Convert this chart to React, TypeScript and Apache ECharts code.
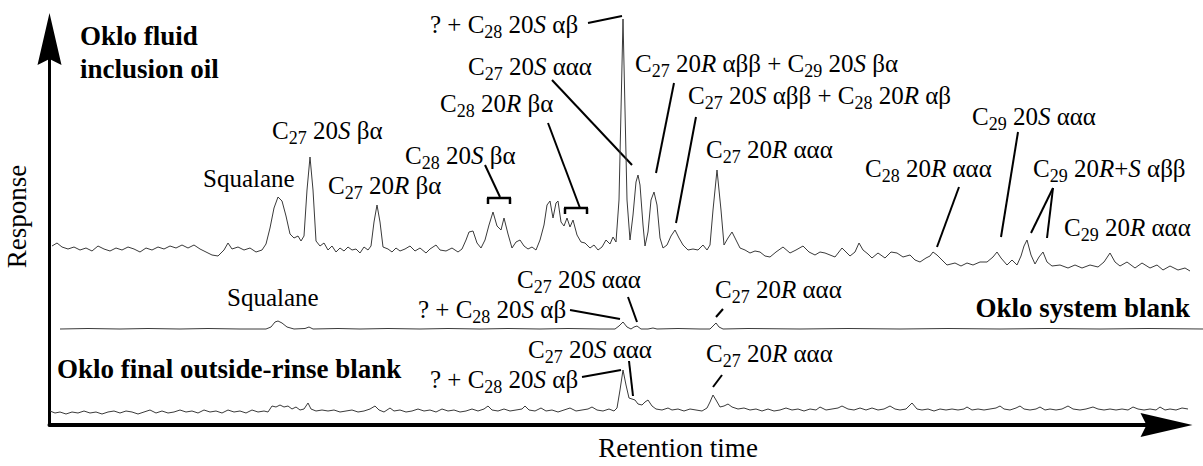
import React, { useEffect, useRef } from 'react';
import * as echarts from 'echarts';

// ---------------- data (retention index, response above trace zero) ----------------
const OIL_TRACE: [number, number][] = [
  [4,26],[9,29],[14,25],[20,23],[26,25],[32,22],[38,24],[44,21],[50,26],[56,23],[62,21],[68,24],[74,22],[80,25],[86,23],[92,20],[98,24],[104,22],[110,25],[116,23],[122,26],[128,24],[134,27],[140,24],[146,27],[152,23],[158,20],[164,17],[170,16],[176,22],[180,29],[184,23],[190,25],[196,22],[202,24],[208,20],[214,22],[218,28],[222,44],[226,64],[230,75],[234,71],[238,56],[242,38],[246,34],[250,36],[253,31],[256,36],[259,82],[262,115],[265,82],[268,31],[272,26],[276,29],[280,22],[284,26],[288,20],[292,24],[296,21],[300,25],[304,22],[308,23],[312,19],[316,25],[320,22],[323,26],[326,50],[329,67],[332,50],[335,25],[340,23],[344,20],[348,24],[352,21],[357,23],[362,26],[367,21],[372,24],[378,19],[382,23],[388,27],[392,22],[398,21],[404,24],[410,20],[414,23],[418,32],[421,40],[425,41],[429,29],[433,24],[437,32],[441,47],[445,60],[449,46],[453,42],[456,54],[460,38],[464,24],[468,30],[472,32],[476,26],[480,23],[484,25],[488,22],[492,32],[496,47],[499,67],[502,71],[505,54],[508,69],[510,71],[513,50],[516,46],[519,54],[522,45],[525,52],[529,37],[533,30],[537,29],[542,24],[546,27],[550,22],[554,25],[558,32],[562,28],[565,35],[568,30],[571,72],[573,162],[575,253],[577,162],[579,72],[582,32],[585,57],[588,90],[590,97],[592,87],[595,47],[597,26],[600,40],[603,72],[606,80],[609,67],[612,34],[615,24],[619,27],[623,36],[627,42],[631,34],[635,27],[640,22],[645,23],[650,22],[655,27],[659,22],[662,27],[665,62],[669,102],[673,62],[676,27],[680,34],[684,40],[688,32],[692,24],[697,22],[702,19],[707,21],[712,20],[717,16],[722,15],[728,20],[735,25],[742,19],[748,22],[755,26],[761,20],[767,17],[772,20],[777,19],[782,17],[787,15],[794,24],[802,16],[807,20],[811,29],[815,22],[820,18],[824,14],[830,19],[837,14],[843,20],[849,19],[855,15],[862,17],[867,12],[872,10],[878,14],[882,16],[885,20],[889,17],[892,14],[899,7],[907,9],[913,6],[919,9],[925,7],[932,10],[939,10],[945,15],[949,20],[953,14],[959,7],[964,12],[969,7],[973,16],[976,26],[979,32],[983,17],[987,8],[991,15],[995,20],[999,10],[1004,6],[1012,7],[1020,4],[1027,7],[1034,4],[1042,7],[1050,5],[1056,10],[1062,19],[1067,10],[1072,6],[1079,10],[1087,4],[1094,9],[1102,4],[1109,7],[1115,2],[1122,6],[1130,2],[1137,4],[1142,1]
];

const SYSTEM_BLANK_TRACE: [number, number][] = [
  [12,1],[40,1.5],[72,1],[100,1.5],[132,1],[160,1.5],[192,1],[218,1],[223,3],[227,8],[230,9],[234,7],[239,3],[246,1],[257,1.5],[261,3],[265,1],[290,1.5],[312,1],[340,1.5],[372,1],[400,1.5],[432,1],[460,1.5],[492,1],[520,1.5],[552,1],[567,1],[571,4],[575,8],[579,3],[583,1],[586,3],[589,4],[593,1],[600,1],[605,2],[609,1],[630,1.5],[652,1],[662,1],[665,4],[668,7],[671,3],[675,1],[700,1.5],[752,1],[800,1.5],[852,1],[900,1.5],[952,1],[1000,1.5],[1052,1],[1100,1.5],[1155,1]
];

const RINSE_BLANK_TRACE: [number, number][] = [
  [2,3],[7,1],[12,2],[18,0],[24,2],[30,1],[36,3],[42,1],[48,2],[54,0],[60,2],[66,3],[72,1],[78,3],[84,2],[90,0],[96,2],[102,4],[108,1],[114,3],[120,1],[126,2],[132,4],[138,2],[144,3],[150,1],[156,4],[162,2],[168,3],[174,1],[180,4],[186,2],[192,3],[198,1],[204,4],[210,2],[216,3],[220,2],[224,8],[228,7],[232,9],[236,7],[240,8],[244,5],[248,7],[252,4],[256,5],[260,11],[263,5],[268,3],[274,4],[280,3],[286,4],[292,2],[298,3],[304,4],[310,2],[316,3],[322,5],[327,8],[331,4],[336,2],[342,6],[346,3],[352,4],[358,2],[364,3],[370,5],[376,3],[382,4],[388,2],[394,5],[400,3],[406,4],[412,2],[418,3],[424,5],[430,3],[436,5],[440,8],[444,4],[450,3],[456,5],[462,3],[468,4],[474,5],[477,8],[481,4],[487,3],[493,6],[498,3],[504,4],[510,2],[516,4],[522,6],[528,3],[534,4],[540,5],[544,7],[549,4],[555,3],[561,5],[566,3],[569,6],[572,24],[575,44],[578,29],[581,16],[584,15],[587,14],[590,10],[594,9],[597,12],[600,14],[604,8],[608,5],[614,4],[620,6],[624,4],[630,5],[636,3],[642,5],[648,4],[654,3],[659,6],[662,12],[665,19],[668,14],[672,7],[676,8],[680,10],[684,7],[690,5],[696,6],[702,4],[708,5],[714,3],[720,5],[726,3],[732,4],[738,6],[744,4],[750,5],[756,3],[762,5],[768,4],[772,7],[778,4],[784,5],[790,6],[794,8],[800,5],[806,4],[812,6],[818,4],[824,6],[830,4],[836,5],[842,8],[847,5],[852,4],[858,5],[864,11],[869,5],[874,4],[880,5],[886,3],[892,5],[898,4],[904,5],[910,4],[916,5],[919,7],[924,4],[930,5],[936,4],[942,5],[948,6],[952,8],[956,5],[962,4],[968,6],[972,8],[976,5],[982,4],[988,5],[992,7],[997,4],[1002,5],[1008,4],[1014,5],[1020,8],[1025,5],[1032,4],[1038,5],[1045,7],[1050,5],[1056,4],[1062,5],[1068,4],[1074,5],[1080,4],[1085,7],[1090,5],[1096,4],[1102,5],[1108,4],[1112,7],[1117,4],[1122,5],[1128,4],[1134,6],[1140,5]
];

const TRACE_TITLES = ['Oklo fluid', 'inclusion oil', 'Oklo system blank', 'Oklo final outside-rinse blank'];
const X_NAME = 'Retention time';
const Y_NAME = 'Response';

// ---------------- layout ----------------
const W = 1203;
const H = 466;
const X_MAX = 1155;
const Y_MAX = 425;
const TRACE_OFFSET = [153, 95, 11];
const FONT = 'Liberation Serif';
const INK = '#000';
const TRACE_COLOR = '#3a3a3a';
const ARROW = 'path://M0,0L12,52L0,46L-12,52Z';
const LABELS_PER_LAYER = 4;

// peak annotations: text, left x, baseline y (pixels)
const PEAK_LABELS: [string, number, number][] = [
  ['Squalane', 203, 187],
  ['C_27 20*S* βα', 272, 139],
  ['C_27 20*R* βα', 328, 194],
  ['C_28 20*S* βα', 405, 164],
  ['C_28 20*R* βα', 440, 112],
  ['C_27 20*S* ααα', 468, 75],
  ['? + C_28 20*S* αβ', 430, 33],
  ['C_27 20*R* αββ + C_29 20*S* βα', 635, 72],
  ['C_27 20*S* αββ + C_28 20*R* αβ', 688, 104],
  ['C_27 20*R* ααα', 706, 158],
  ['C_28 20*R* ααα', 865, 177],
  ['C_29 20*S* ααα', 972, 125],
  ['C_29 20*R*+*S* αββ', 1033, 177],
  ['C_29 20*R* ααα', 1064, 236],
  ['Squalane', 227, 306],
  ['? + C_28 20*S* αβ', 418, 318],
  ['C_27 20*S* ααα', 517, 288],
  ['C_27 20*R* ααα', 715, 298],
  ['C_27 20*S* ααα', 528, 358],
  ['? + C_28 20*S* αβ', 430, 388],
  ['C_27 20*R* ααα', 706, 362],
];

const LEADERS: [number, number, number, number][] = [
  [485, 165, 500, 197],
  [548, 123, 580, 208],
  [552, 80, 632, 165],
  [588, 23, 622, 16],
  [674, 83, 656, 173],
  [696, 117, 676, 223],
  [959, 187, 937, 247],
  [1018, 132, 1001, 237],
  [1053, 188, 1031, 233],
  [1053, 188, 1047, 238],
  [570, 310, 620, 319],
  [628, 297, 637, 322],
  [723, 309, 716, 317],
  [582, 377, 621, 370],
  [629, 361, 633, 396],
  [722, 375, 713, 387],
];

const BRACKETS: [number, number, number][] = [
  [488, 510, 198],
  [565, 587, 208],
];

const RICH = {
  n: { fontFamily: FONT, fontSize: 25, fill: INK },
  i: { fontFamily: FONT, fontSize: 25, fontStyle: 'italic', fill: INK },
  s: { fontFamily: FONT, fontSize: 18, fill: INK, padding: [14, 0, 0, 0] },
};

function toRich(spec: string): string {
  let out = '';
  const re = /_(\d+)|\*([^*]+)\*|([^_*]+)/g;
  let m: RegExpExecArray | null;
  while ((m = re.exec(spec))) {
    if (m[1]) out += `{s|${m[1]}}`;
    else if (m[2]) out += `{i|${m[2]}}`;
    else out += `{n|${m[3]}}`;
  }
  return out;
}

const hiddenAxis = (gridIndex: number, extra: any = {}) => ({
  type: 'value', gridIndex, min: 0, max: 1,
  axisLine: { show: false }, axisTick: { show: false }, axisLabel: { show: false }, splitLine: { show: false },
  ...extra,
});

function buildMainOption() {
  const traces = [OIL_TRACE, SYSTEM_BLANK_TRACE, RINSE_BLANK_TRACE];
  const series = traces.map((tr, k) => ({
    type: 'line',
    xAxisIndex: 0,
    yAxisIndex: 0,
    data: tr.map(([x, r]) => [x, r + TRACE_OFFSET[k]]),
    showSymbol: false,
    smooth: false,
    lineStyle: { color: TRACE_COLOR, width: 1 },
  }));

  const elements: any[] = [];
  const seg = (x1: number, y1: number, x2: number, y2: number, w = 2) =>
    elements.push({ type: 'line', shape: { x1, y1, x2, y2 }, style: { stroke: INK, lineWidth: w } });
  LEADERS.forEach(([x1, y1, x2, y2]) => seg(x1, y1, x2, y2));
  BRACKETS.forEach(([xa, xb, y]) => {
    seg(xa - 1, y, xb + 1, y, 2.5);
    seg(xa, y, xa, y + 6, 2.5);
    seg(xb, y, xb, y + 6, 2.5);
  });
  const bold = { fontFamily: FONT, fontSize: 27, fontWeight: 'bold', fill: INK, verticalAlign: 'middle' };
  elements.push({ type: 'text', x: 80, y: 36, style: { ...bold, text: TRACE_TITLES[0], align: 'left' } });
  elements.push({ type: 'text', x: 80, y: 69, style: { ...bold, text: TRACE_TITLES[1], align: 'left' } });
  elements.push({ type: 'text', x: 1190, y: 308, style: { ...bold, text: TRACE_TITLES[2], align: 'right' } });
  elements.push({ type: 'text', x: 57, y: 369, style: { ...bold, text: TRACE_TITLES[3], align: 'left' } });

  const nameStyle = { fontFamily: FONT, fontSize: 27, color: INK };

  return {
    animation: false,
    backgroundColor: '#fff',
    textStyle: { fontFamily: FONT },
    grid: [
      { left: 48, top: 0, width: X_MAX, height: Y_MAX },
      { left: 49.5, top: 39, width: 1117, height: 386 },
      { left: 300, top: 39, width: 756, height: 386 },
      { left: 49.5, top: 39, width: 100, height: 355 },
    ],
    xAxis: [
      { type: 'value', gridIndex: 0, min: 0, max: X_MAX, show: false },
      {
        type: 'value', gridIndex: 1, min: 0, max: 1,
        axisLine: { show: true, lineStyle: { color: INK, width: 4 }, symbol: ['none', ARROW], symbolSize: [24, 53] },
        axisTick: { show: false }, axisLabel: { show: false }, splitLine: { show: false },
      },
      hiddenAxis(2, { name: X_NAME, nameLocation: 'middle', nameGap: 20, nameTextStyle: nameStyle }),
      { type: 'value', gridIndex: 3, show: false },
    ],
    yAxis: [
      { type: 'value', gridIndex: 0, min: 0, max: Y_MAX, show: false },
      {
        type: 'value', gridIndex: 1, min: 0, max: 1,
        axisLine: { show: true, lineStyle: { color: INK, width: 3 }, symbol: ['none', ARROW], symbolSize: [24, 52] },
        axisTick: { show: false }, axisLabel: { show: false }, splitLine: { show: false },
      },
      { type: 'value', gridIndex: 2, show: false },
      hiddenAxis(3, { name: Y_NAME, nameLocation: 'middle', nameGap: 19, nameRotate: 90, nameTextStyle: nameStyle }),
    ],
    series,
    graphic: { elements },
  };
}

function buildLabelLayer(labels: [string, number, number][]) {
  return {
    animation: false,
    backgroundColor: 'transparent',
    textStyle: { fontFamily: FONT },
    graphic: {
      elements: labels.map(([t, x, b]) => ({
        type: 'text', x, y: b - 8.5,
        style: { text: toRich(t), rich: RICH, fontFamily: FONT, fontSize: 25, fill: INK, align: 'left', verticalAlign: 'middle' },
      })),
    },
  };
}

const LAYERS: any[] = (() => {
  const out: any[] = [buildMainOption()];
  for (let i = 0; i < PEAK_LABELS.length; i += LABELS_PER_LAYER) {
    out.push(buildLabelLayer(PEAK_LABELS.slice(i, i + LABELS_PER_LAYER)));
  }
  return out;
})();

export default function App() {
  const refs = useRef<(HTMLDivElement | null)[]>([]);
  useEffect(() => {
    document.body.style.margin = '0';
    const charts = refs.current.map((el, i) => {
      if (!el) return null;
      const c = echarts.init(el, undefined, { renderer: 'svg' });
      c.setOption(LAYERS[i]);
      return c;
    });
    return () => charts.forEach((c) => c && c.dispose());
  }, []);
  return (
    <div style={{ position: 'relative', width: W, height: H }}>
      {LAYERS.map((_, i) => (
        <div
          key={i}
          ref={(el) => { refs.current[i] = el; }}
          style={{ position: 'absolute', left: 0, top: 0, width: W, height: H, pointerEvents: 'none' }}
        />
      ))}
    </div>
  );
}
